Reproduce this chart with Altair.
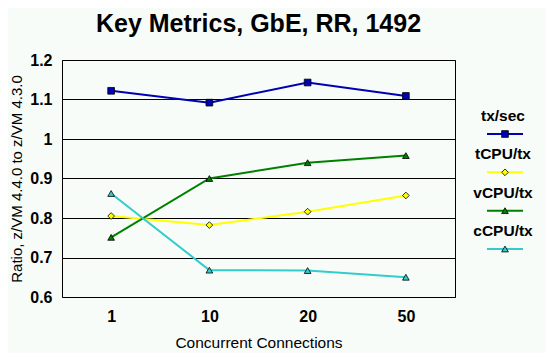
import altair as alt
import pandas as pd

categories = ["1", "10", "20", "50"]
series = ["tx/sec", "tCPU/tx", "vCPU/tx", "cCPU/tx"]
tx_sec = [1.122, 1.092, 1.143, 1.109]
tcpu_tx = [0.805, 0.782, 0.816, 0.857]
vcpu_tx = [0.751, 0.900, 0.940, 0.958]
ccpu_tx = [0.862, 0.668, 0.667, 0.650]
line_colors = ["#0000b4", "#ffff00", "#008000", "#33cccc"]
marker_shapes = ["square", "diamond", "triangle-up", "triangle-up"]
y_ticks = [0.6, 0.7, 0.8, 0.9, 1.0, 1.1, 1.2]

rows = []
for name, vals in zip(series, [tx_sec, tcpu_tx, vcpu_tx, ccpu_tx]):
    for c, v in zip(categories, vals):
        rows.append({"Connections": c, "Series": name, "Value": v})
df = pd.DataFrame(rows)
legend_df = pd.DataFrame({"Series": series})

FONT = "Liberation Sans"
BG = "#f8fcf8"

color_scale = alt.Scale(domain=series, range=line_colors)
shape_scale = alt.Scale(domain=series, range=marker_shapes)

x_enc = alt.X(
    "Connections:N", sort=categories, title="Concurrent Connections",
    axis=alt.Axis(labelAngle=0, grid=False, ticks=False, domain=False,
                  labelFontWeight="bold", labelFontSize=16, labelPadding=11,
                  titleFontWeight="normal", titleFontSize=15.5, titlePadding=11),
)
y_enc = alt.Y(
    "Value:Q", title="Ratio, z/VM 4.4.0 to z/VM 4.3.0",
    scale=alt.Scale(domain=[0.6, 1.2], nice=False, zero=False),
    axis=alt.Axis(values=y_ticks, format="~g", grid=True, gridColor="black",
                  gridOpacity=1, ticks=False, domain=False,
                  labelFontWeight="bold", labelFontSize=16, labelPadding=10,
                  titleFontWeight="normal", titleFontSize=15, titlePadding=5),
)

base = alt.Chart(df).encode(
    x=x_enc, y=y_enc,
    color=alt.Color("Series:N", scale=color_scale, legend=None),
    detail="Series:N",
)
lines = base.mark_line(strokeWidth=2)
points = base.mark_point(filled=True, stroke="black", strokeWidth=0.8, opacity=1, size=45).encode(
    shape=alt.Shape("Series:N", scale=shape_scale, legend=None)
)
main = alt.layer(lines, points)

leg_y = alt.Y("Series:N", sort=series, axis=None,
              scale=alt.Scale(type="point", padding=0, domain=series, range=[56, 171]))
leg_base = alt.Chart(legend_df).encode(
    y=leg_y, color=alt.Color("Series:N", scale=color_scale, legend=None)
)
leg_text = leg_base.mark_text(font=FONT, fontSize=15.5, fontWeight="bold",
                              color="black", align="center", baseline="middle").encode(
    x=alt.value(441), text="Series:N", color=alt.value("black"))
leg_rule = leg_base.mark_rule(strokeWidth=2, yOffset=18).encode(
    x=alt.value(425), x2=alt.value(461))
leg_pt = leg_base.mark_point(filled=True, stroke="black", strokeWidth=0.8, opacity=1,
                             size=45, yOffset=18).encode(
    x=alt.value(443),
    shape=alt.Shape("Series:N", scale=shape_scale, legend=None))
legend = alt.layer(leg_text, leg_rule, leg_pt)

chart = alt.layer(main, legend).resolve_scale(y="independent").properties(
    width=393, height=237,
    title=alt.TitleParams("Key Metrics, GbE, RR, 1492", font=FONT, fontSize=25,
                          fontWeight="bold", anchor="middle", offset=15, color="black"),
    autosize=alt.AutoSizeParams(type="none"),
    padding={"left": 54, "top": 52, "right": 91, "bottom": 56},
    background=BG,
).configure_view(stroke="black", strokeWidth=1, fill=BG).configure_axis(
    labelFont=FONT, titleFont=FONT, labelColor="black", titleColor="black"
)

chart.save("out.html", embed_options={"renderer": "svg", "actions": False})
